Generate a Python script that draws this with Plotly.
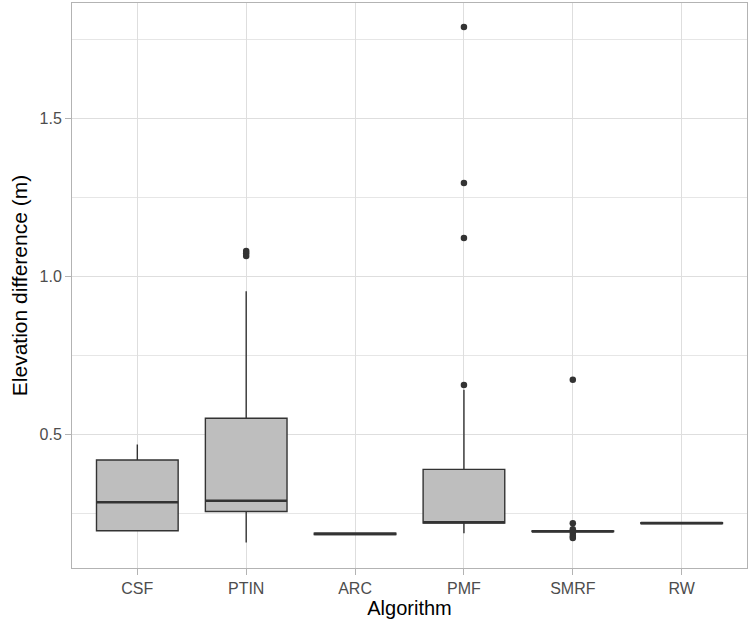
import plotly.graph_objects as go

algorithms = ["CSF", "PTIN", "ARC", "PMF", "SMRF", "RW"]
q1 = [0.194, 0.255, 0.182, 0.218, 0.191, 0.217]
median = [0.284, 0.289, 0.184, 0.221, 0.192, 0.218]
q3 = [0.418, 0.550, 0.186, 0.388, 0.193, 0.219]
lower_whisker = [0.194, 0.157, 0.182, 0.186, 0.191, 0.217]
upper_whisker = [0.467, 0.952, 0.186, 0.640, 0.193, 0.219]

outlier_alg = ["PTIN", "PTIN", "PTIN", "PMF", "PMF", "PMF", "PMF",
               "SMRF", "SMRF", "SMRF", "SMRF", "SMRF", "SMRF"]
outlier_val = [1.063, 1.072, 1.079, 0.655, 1.120, 1.294, 1.788,
               0.672, 0.218, 0.199, 0.187, 0.177, 0.171]

y_ticks = [0.5, 1.0, 1.5]
y_tick_text = ["0.5", "1.0", "1.5"]
y_minor = [0.25, 0.75, 1.25, 1.75]

pos = {a: i + 1 for i, a in enumerate(algorithms)}
xs = [pos[a] for a in algorithms]

fig = go.Figure()
fig.add_trace(go.Box(
    x=xs, q1=q1, median=median, q3=q3,
    lowerfence=lower_whisker, upperfence=upper_whisker,
    width=0.75, whiskerwidth=0, boxpoints=False,
    fillcolor="#BEBEBE", line=dict(color="#333333", width=1.4),
    showlegend=False, hoverinfo="skip",
))
# thicker median line (ggplot fatten)
fig.add_trace(go.Box(
    x=xs, q1=median, median=median, q3=median,
    lowerfence=median, upperfence=median,
    width=0.75, whiskerwidth=0, boxpoints=False,
    fillcolor="rgba(0,0,0,0)", line=dict(color="#333333", width=2.6),
    showlegend=False, hoverinfo="skip",
))
fig.add_trace(go.Scatter(
    x=[pos[a] for a in outlier_alg], y=outlier_val, mode="markers",
    marker=dict(color="#333333", size=6.5, line=dict(width=0)),
    showlegend=False, hoverinfo="skip",
))

axis_common = dict(
    showline=True, mirror=True, linecolor="#B3B3B3", linewidth=1,
    gridcolor="#DEDEDE", gridwidth=1, zeroline=False,
    ticks="outside", ticklen=6, tickcolor="#B3B3B3", tickwidth=1,
    tickfont=dict(family="Liberation Sans, Arial", size=16, color="#4D4D4D"),
)

fig.update_layout(
    width=748, height=625,
    margin=dict(l=72, r=1, t=3, b=57, autoexpand=False),
    paper_bgcolor="white", plot_bgcolor="white",
    xaxis=dict(
        range=[0.4, 6.6], tickvals=xs, ticktext=algorithms,
        title=dict(text="Algorithm", standoff=2,
                   font=dict(family="Liberation Sans, Arial", size=20, color="black")),
        **axis_common,
    ),
    yaxis=dict(
        range=[0.076, 1.864], tickvals=y_ticks, ticktext=y_tick_text,
        minor=dict(tickvals=y_minor, showgrid=True, gridcolor="#E6E6E6",
                   gridwidth=1, ticks=""),
        title=dict(text="Elevation difference (m)", standoff=6,
                   font=dict(family="Liberation Sans, Arial", size=21, color="black")),
        **axis_common,
    ),
)

fig.write_html("out.html", config={"displayModeBar": False},
               post_script="document.body.style.margin='0';")
